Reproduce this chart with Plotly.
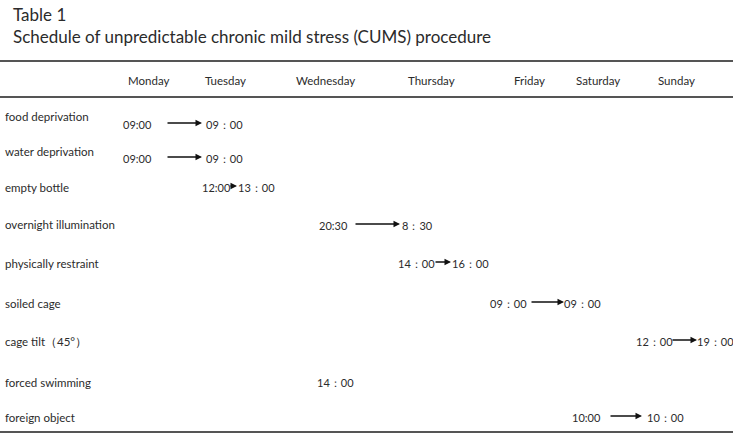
import plotly.graph_objects as go

# ---- data ----
table_title = "Table 1"
table_caption = "Schedule of unpredictable chronic mild stress (CUMS) procedure"
days = ["Monday", "Tuesday", "Wednesday", "Thursday", "Friday", "Saturday", "Sunday"]
stressors = ["food deprivation", "water deprivation", "empty bottle",
             "overnight illumination", "physically restraint", "soiled cage",
             "cage tilt\uff0845°\uff09", "forced swimming", "foreign object"]
start_times = ["09:00", "09:00", "12:00", "20:30", "14\uff1a00", "09\uff1a00",
               "12\uff1a00", "14\uff1a00", "10:00"]
end_times = ["09\uff1a00", "09\uff1a00", "13\uff1a00", "8\uff1a30", "16\uff1a00",
             "09\uff1a00", "19\uff1a00", None, "10\uff1a00"]

# ---- layout (screen-pixel coordinates of the 733x436 window) ----
W, H = 733, 436
day_x = [148, 225, 325, 431, 529, 598, 676]
label_y = [116, 151, 187, 224, 263, 303, 342, 382, 417]
time_y = [124, 158, 187, 225, 263, 303, 341, 382, 417]
start_x = [121, 121, 200, 317, 396, 488, 634, 315, 570]
arrow_x0 = [166, 166, 229, 354, 434, 530, 671, None, 609]
arrow_x1 = [202, 202, 237, 400, 451, 564, 697, None, 642]
end_x = [204, 204, 236, 400, 450, 562, 695, None, 645]

FONT = "Lato, 'Open Sans', sans-serif"
TXT = "#2b2b2b"
SZ = 11.5
TSZ = 11

fig = go.Figure()
fig.add_trace(go.Scatter(x=[0, W], y=[0, H], mode="markers",
                         marker=dict(opacity=0), hoverinfo="skip", showlegend=False))

ann = []
ann.append(dict(x=11, y=14, text=table_title, xanchor="left", yanchor="middle",
                showarrow=False, font=dict(family=FONT, size=17, color=TXT)))
ann.append(dict(x=11, y=36, text=table_caption, xanchor="left", yanchor="middle",
                showarrow=False, font=dict(family=FONT, size=17, color=TXT)))
for d, x in zip(days, day_x):
    ann.append(dict(x=x, y=80, text=d, xanchor="center", yanchor="middle",
                    showarrow=False, font=dict(family=FONT, size=SZ, color=TXT)))
for i, s in enumerate(stressors):
    ann.append(dict(x=3, y=label_y[i], text=s, xanchor="left", yanchor="middle",
                    showarrow=False, font=dict(family=FONT, size=SZ, color=TXT)))
    ann.append(dict(x=start_x[i], y=time_y[i], text=start_times[i], xanchor="left",
                    yanchor="middle", showarrow=False,
                    font=dict(family=FONT, size=TSZ, color=TXT)))
    if end_times[i] is not None:
        ann.append(dict(x=end_x[i], y=time_y[i], text=end_times[i], xanchor="left",
                        yanchor="middle", showarrow=False,
                        font=dict(family=FONT, size=TSZ, color=TXT)))
        ann.append(dict(x=arrow_x1[i], y=time_y[i] - 1, ax=arrow_x0[i], ay=time_y[i] - 1,
                        axref="x", ayref="y", xref="x", yref="y", text="",
                        showarrow=True, arrowhead=2, arrowsize=1, arrowwidth=1.3,
                        arrowcolor="#111111", standoff=0, startstandoff=0))

shapes = [
    dict(type="line", x0=0, x1=W, y0=61, y1=61, line=dict(color="#555555", width=2)),
    dict(type="line", x0=0, x1=W, y0=97, y1=97, line=dict(color="#555555", width=2)),
    dict(type="line", x0=0, x1=W, y0=432, y1=432, line=dict(color="#555555", width=2)),
]

fig.update_layout(
    width=W, height=H, margin=dict(l=0, r=0, t=0, b=0, pad=0),
    paper_bgcolor="white", plot_bgcolor="white",
    xaxis=dict(range=[0, W], visible=False, fixedrange=True),
    yaxis=dict(range=[H, 0], visible=False, fixedrange=True),
    annotations=ann, shapes=shapes, showlegend=False,
)
fig.write_html("out.html", config={"displayModeBar": False},
               post_script="document.body.style.margin='0';document.body.style.overflow='hidden';")
